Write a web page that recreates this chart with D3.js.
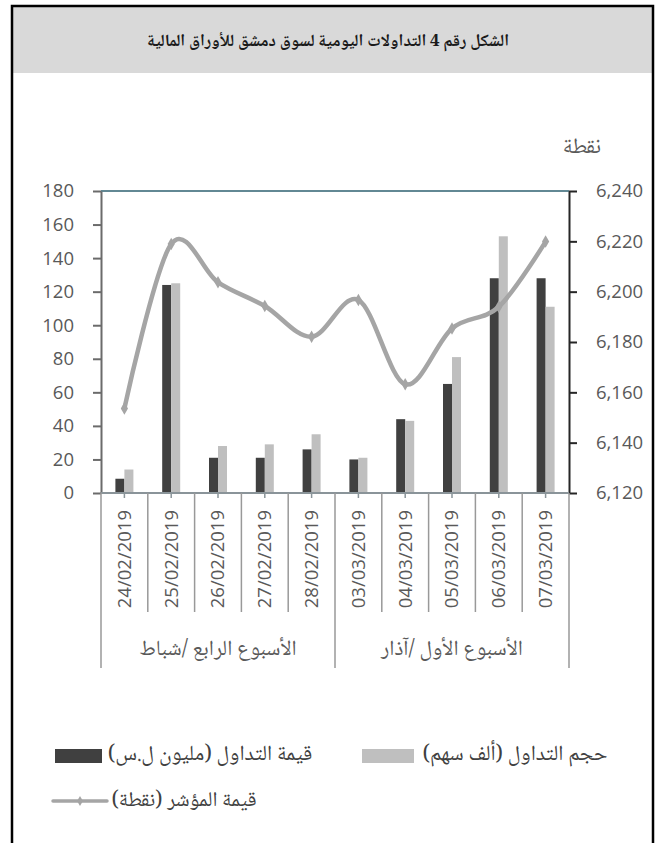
<!DOCTYPE html>
<html>
<head>
<meta charset="utf-8">
<script src="https://cdn.jsdelivr.net/npm/d3@7/dist/d3.min.js"></script>
<style>
  html, body { margin: 0; padding: 0; background: #fff; }
  svg { display: block; }
  .num { font-family: "Open Sans", "Noto Sans", sans-serif; fill: #595959; }
  .ar { font-family: "Noto Naskh Arabic", "Noto Sans Arabic", "DejaVu Sans", sans-serif; fill: #404040; direction: rtl; unicode-bidi: embed; }
</style>
</head>
<body>
<svg id="chart" width="655" height="843"></svg>
<script>
// ---- data ----
const dates = ["24/02/2019","25/02/2019","26/02/2019","27/02/2019","28/02/2019",
               "03/03/2019","04/03/2019","05/03/2019","06/03/2019","07/03/2019"];
const tradeValue  = [8.5, 124, 21, 21, 26, 20, 44, 65, 128, 128];   // قيمة التداول (مليون ل.س)
const tradeVolume = [14, 125, 28, 29, 35, 21, 43, 81, 153, 111];    // حجم التداول (ألف سهم)
const indexValue  = [6153.6, 6218.9, 6203.7, 6194.3, 6182.1, 6196.7, 6163.2, 6185.4, 6194.0, 6219.9]; // قيمة المؤشر
const weeks = ["الأسبوع الرابع /شباط", "الأسبوع الأول /آذار"];
const weekDays = [dates.slice(0,5), dates.slice(5)];
const leftTicks = [0,20,40,60,80,100,120,140,160,180];
const rightTicks = [6120,6140,6160,6180,6200,6220,6240];
const title = "الشكل رقم 4 التداولات اليومية لسوق دمشق للأوراق المالية";
const rightUnit = "نقطة";
const legendValue = "قيمة التداول (مليون ل.س)";
const legendVolume = "حجم التداول (ألف سهم)";
const legendIndex = "قيمة المؤشر (نقطة)";

const cDark = "#404040", cLight = "#bfbfbf", cLine = "#a5a5a5";

const svg = d3.select("#chart");

// frame + title band
svg.append("rect").attr("x", 12).attr("y", 7).attr("width", 641).attr("height", 66).attr("fill", "#d9d9d9");
svg.append("rect").attr("x", 12).attr("y", 6).attr("width", 641).attr("height", 860)
  .attr("fill", "none").attr("stroke", "#000").attr("stroke-width", 2.5);
svg.append("text").attr("class", "ar").attr("x", 328).attr("y", 40).attr("dy", "0.35em")
  .attr("text-anchor", "middle").style("font-weight", "bold").style("font-size", "17px").style("fill", "#1a1a1a")
  .text(title);

// scales
const L = 101, R = 569, T = 191, B = 493;
const x = d3.scaleBand().domain(dates).range([L, R]);
const xs = d3.scaleBand().domain(["v","q"]).range([0, 18]);
const yL = d3.scaleLinear().domain([0, 180]).range([B, T]);
const yR = d3.scaleLinear().domain([6120, 6240]).range([B, T]);
const cx = d => x(d) + x.bandwidth() / 2;

// bars
const g = svg.append("g");
g.selectAll(".bv").data(dates).join("rect")
  .attr("x", d => cx(d) - 9 + xs("v")).attr("width", xs.bandwidth())
  .attr("y", (d,i) => yL(tradeValue[i])).attr("height", (d,i) => B - yL(tradeValue[i]))
  .attr("fill", cDark);
g.selectAll(".bq").data(dates).join("rect")
  .attr("x", d => cx(d) - 9 + xs("q")).attr("width", xs.bandwidth())
  .attr("y", (d,i) => yL(tradeVolume[i])).attr("height", (d,i) => B - yL(tradeVolume[i]))
  .attr("fill", cLight);

// top border line
svg.append("line").attr("x1", L).attr("x2", R).attr("y1", T).attr("y2", T)
  .attr("stroke", "#2e6170").attr("stroke-width", 1.5);

// left axis
const axL = svg.append("g").attr("transform", `translate(${L},0)`)
  .call(d3.axisLeft(yL).tickValues(leftTicks).tickSize(8).tickPadding(19).tickSizeOuter(0));
axL.select(".domain").attr("stroke", "#6b6b6b").attr("stroke-width", 2);
axL.selectAll(".tick line").attr("stroke", "#6b6b6b").attr("stroke-width", 2);
axL.selectAll(".tick text").attr("class", "num").style("font-size", "18.5px");

// right axis
const axR = svg.append("g").attr("transform", `translate(${R},0)`)
  .call(d3.axisRight(yR).tickValues(rightTicks).tickSize(8).tickPadding(19).tickSizeOuter(0)
    .tickFormat(d3.format(",")));
axR.select(".domain").attr("stroke", "#262626").attr("stroke-width", 2);
axR.selectAll(".tick line").attr("stroke", "#262626").attr("stroke-width", 2);
axR.selectAll(".tick text").attr("class", "num").style("font-size", "18.5px");

svg.append("text").attr("class", "ar").attr("x", 582).attr("y", 145).attr("dy", "0.35em")
  .attr("text-anchor", "middle").style("font-size", "22px").style("fill", "#595959").text(rightUnit);

// bottom axis
svg.append("line").attr("x1", L).attr("x2", R).attr("y1", B).attr("y2", B)
  .attr("stroke", "#8a9499").attr("stroke-width", 2);
// center ticks
svg.selectAll(".ct").data(dates).join("line")
  .attr("x1", cx).attr("x2", cx).attr("y1", B).attr("y2", B + 5)
  .attr("stroke", "#8a9499").attr("stroke-width", 1.5);
// boundaries
const bounds = dates.map(d => x(d)).concat([R]);
svg.selectAll(".bd").data(bounds).join("line")
  .attr("x1", d => d).attr("x2", d => d).attr("y1", B)
  .attr("y2", (d,i) => (i === 0 || i === 5 || i === 10) ? 668 : 612)
  .attr("stroke", "#999").attr("stroke-width", 1.5);

// date labels
svg.selectAll(".dl").data(dates).join("text").attr("class", "num")
  .attr("transform", d => `translate(${cx(d)},510) rotate(-90)`)
  .attr("dy", "0.35em").attr("text-anchor", "end").style("font-size", "18.5px")
  .text(d => d);

// week labels
svg.selectAll(".wk").data(weeks).join("text").attr("class", "ar")
  .attr("x", (d,i) => (x(weekDays[i][0]) + x(weekDays[i][weekDays[i].length-1]) + x.bandwidth()) / 2)
  .attr("y", 647).attr("dy", "0.35em").attr("text-anchor", "middle")
  .style("font-size", "21.5px").style("fill", "#595959").text(d => d);

// index line
const pts = dates.map((d,i) => [cx(d), yR(indexValue[i])]);
svg.append("path").attr("d", d3.line().curve(d3.curveCardinal.tension(0))(pts))
  .attr("fill", "none").attr("stroke", cLine).attr("stroke-width", 4.5).attr("stroke-linejoin", "round");
const diamond = d3.symbol().type(d3.symbolDiamond).size(45);
svg.selectAll(".mk").data(pts).join("path")
  .attr("transform", p => `translate(${p[0]},${p[1]})`).attr("d", diamond).attr("fill", cLine);

// legend
svg.append("rect").attr("x", 362).attr("y", 749).attr("width", 52).attr("height", 14).attr("fill", cLight);
svg.append("text").attr("class", "ar").attr("x", 515).attr("y", 752).attr("dy", "0.35em")
  .attr("text-anchor", "middle").style("font-size", "21.5px").text(legendVolume);
svg.append("rect").attr("x", 55).attr("y", 749).attr("width", 47).attr("height", 14).attr("fill", cDark);
svg.append("text").attr("class", "ar").attr("x", 210).attr("y", 752).attr("dy", "0.35em")
  .attr("text-anchor", "middle").style("font-size", "21.5px").text(legendValue);
svg.append("line").attr("x1", 53).attr("x2", 107).attr("y1", 801).attr("y2", 801)
  .attr("stroke", cLine).attr("stroke-width", 3.5).attr("stroke-linecap", "round");
svg.append("path").attr("transform", "translate(80,801)").attr("d", d3.symbol().type(d3.symbolDiamond).size(30)).attr("fill", cLine);
svg.append("text").attr("class", "ar").attr("x", 184).attr("y", 799).attr("dy", "0.35em")
  .attr("text-anchor", "middle").style("font-size", "21px").text(legendIndex);
</script>
</body>
</html>
